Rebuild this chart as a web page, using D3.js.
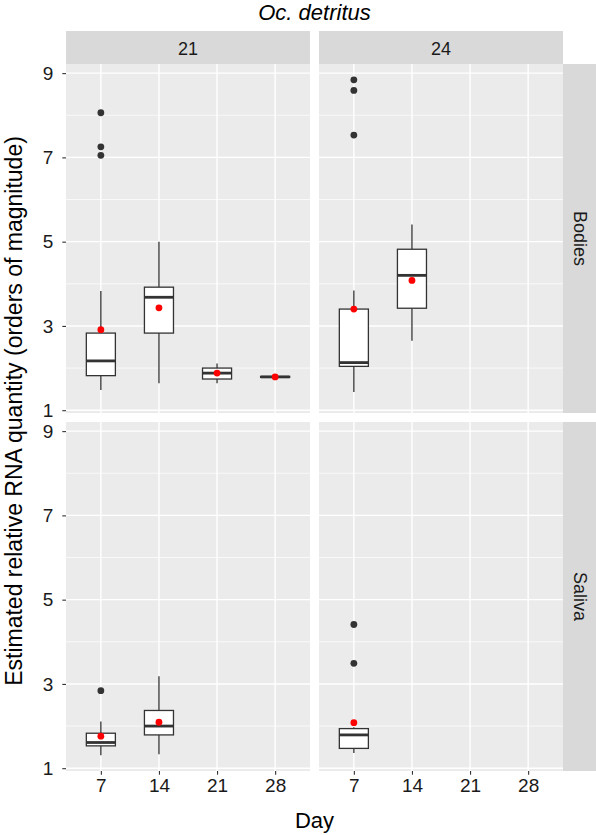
<!DOCTYPE html>
<html>
<head>
<meta charset="utf-8">
<script src="https://cdn.jsdelivr.net/npm/d3@7"></script>
<style>
  html, body { margin: 0; padding: 0; background: #fff; }
  svg { display: block; font-family: "Liberation Sans", Arial, sans-serif; }
</style>
</head>
<body>
<svg id="chart" width="596" height="835"></svg>
<script>
// ---- data ----
const days = ["7", "14", "21", "28"];
const temps = ["21", "24"];
const tissues = ["Bodies", "Saliva"];
const yTicks = [1, 3, 5, 7, 9];
const yMinorTicks = [2, 4, 6, 8];

// one entry per box
const boxTissue = ["Bodies", "Bodies", "Bodies", "Bodies", "Bodies", "Bodies", "Saliva", "Saliva", "Saliva"];
const boxTemp   = ["21", "21", "21", "21", "24", "24", "21", "21", "24"];
const boxDay    = ["7", "14", "21", "28", "7", "14", "7", "14", "7"];
const whiskLo   = [1.48, 1.64, 1.64, 1.79, 1.43, 2.65, 1.31, 1.33, 1.36];
const q1        = [1.82, 2.83, 1.74, 1.78, 2.04, 3.42, 1.53, 1.79, 1.47];
const median    = [2.17, 3.68, 1.88, 1.79, 2.13, 4.20, 1.61, 2.00, 1.79];
const q3        = [2.83, 3.92, 2.00, 1.80, 3.40, 4.82, 1.83, 2.37, 1.94];
const whiskHi   = [3.83, 5.00, 2.11, 1.79, 3.84, 5.41, 2.11, 3.18, 1.97];
const means     = [2.91, 3.43, 1.88, 1.79, 3.40, 4.08, 1.76, 2.09, 2.08];

// outliers
const outTissue = ["Bodies", "Bodies", "Bodies", "Bodies", "Bodies", "Bodies", "Saliva", "Saliva", "Saliva"];
const outTemp   = ["21", "21", "21", "24", "24", "24", "21", "24", "24"];
const outDay    = ["7", "7", "7", "7", "7", "7", "7", "7", "7"];
const outValue  = [8.06, 7.25, 7.05, 8.84, 8.59, 7.53, 2.84, 4.41, 3.49];

// ---- layout ----
const svg = d3.select("#chart");
const colX0 = [66, 319];
const panelW = 244;
const rowY0 = [64, 422];
const panelH = 349;
const stripTop = 31;
const rightStripW = 34;

const allVals = whiskLo.concat(whiskHi, outValue);
const ymin = d3.min(allVals), ymax = d3.max(allVals);
const pad = (ymax - ymin) * 0.05;

const gridCol = "#FFFFFF";
const panelBg = "#EBEBEB";
const stripBg = "#D9D9D9";
const inkDark = "#333333";
const textCol = "#1A1A1A";

// title
svg.append("text")
  .attr("x", (colX0[0] + colX0[1] + panelW) / 2)
  .attr("y", 20)
  .attr("text-anchor", "middle")
  .attr("font-style", "italic")
  .attr("font-size", 22)
  .attr("fill", "#000")
  .text("Oc. detritus");

// top strips
temps.forEach((t, ci) => {
  svg.append("rect").attr("x", colX0[ci]).attr("y", stripTop)
    .attr("width", panelW).attr("height", rowY0[0] - stripTop).attr("fill", stripBg);
  svg.append("text").attr("x", colX0[ci] + panelW / 2).attr("y", (stripTop + rowY0[0]) / 2 + 1)
    .attr("text-anchor", "middle").attr("dominant-baseline", "central")
    .attr("font-size", 18).attr("fill", textCol).text(t);
});

// right strips
tissues.forEach((tis, ri) => {
  const x0 = colX0[1] + panelW;
  svg.append("rect").attr("x", x0).attr("y", rowY0[ri])
    .attr("width", rightStripW).attr("height", panelH).attr("fill", stripBg);
  svg.append("text")
    .attr("transform", `translate(${x0 + 16.5},${rowY0[ri] + panelH / 2}) rotate(90)`)
    .attr("text-anchor", "middle").attr("dominant-baseline", "central")
    .attr("font-size", 18).attr("fill", textCol).text(tis);
});

tissues.forEach((tis, ri) => {
  temps.forEach((t, ci) => {
    const x = d3.scalePoint().domain(days).range([colX0[ci], colX0[ci] + panelW]).padding(0.6);
    const y = d3.scaleLinear().domain([ymin - pad, ymax + pad]).range([rowY0[ri] + panelH, rowY0[ri]]);
    const g = svg.append("g");
    g.append("rect").attr("x", colX0[ci]).attr("y", rowY0[ri])
      .attr("width", panelW).attr("height", panelH).attr("fill", panelBg);
    // minor grid
    g.selectAll(".minor").data(yMinorTicks).join("line")
      .attr("x1", colX0[ci]).attr("x2", colX0[ci] + panelW)
      .attr("y1", d => y(d)).attr("y2", d => y(d))
      .attr("stroke", gridCol).attr("stroke-width", 0.7);
    // major grid
    g.selectAll(".majy").data(yTicks).join("line")
      .attr("x1", colX0[ci]).attr("x2", colX0[ci] + panelW)
      .attr("y1", d => y(d)).attr("y2", d => y(d))
      .attr("stroke", gridCol).attr("stroke-width", 1.4);
    g.selectAll(".majx").data(days).join("line")
      .attr("x1", d => x(d)).attr("x2", d => x(d))
      .attr("y1", rowY0[ri]).attr("y2", rowY0[ri] + panelH)
      .attr("stroke", gridCol).attr("stroke-width", 1.4);

    const bw = x.step() * 0.5;
    const idx = d3.range(boxDay.length).filter(i => boxTissue[i] === tis && boxTemp[i] === t);
    idx.forEach(i => {
      const cx = x(boxDay[i]);
      // whiskers
      g.append("line").attr("x1", cx).attr("x2", cx)
        .attr("y1", y(q3[i])).attr("y2", y(whiskHi[i]))
        .attr("stroke", inkDark).attr("stroke-width", 1.3);
      g.append("line").attr("x1", cx).attr("x2", cx)
        .attr("y1", y(q1[i])).attr("y2", y(whiskLo[i]))
        .attr("stroke", inkDark).attr("stroke-width", 1.3);
      // box
      g.append("rect").attr("x", cx - bw / 2).attr("y", y(q3[i]))
        .attr("width", bw).attr("height", Math.max(0, y(q1[i]) - y(q3[i])))
        .attr("fill", "#fff").attr("stroke", inkDark).attr("stroke-width", 1.3);
      // median
      g.append("line").attr("x1", cx - bw / 2).attr("x2", cx + bw / 2)
        .attr("y1", y(median[i])).attr("y2", y(median[i]))
        .attr("stroke", inkDark).attr("stroke-width", 2.8);
    });
    // outliers
    const oidx = d3.range(outDay.length).filter(i => outTissue[i] === tis && outTemp[i] === t);
    g.selectAll(".out").data(oidx).join("circle")
      .attr("cx", i => x(outDay[i])).attr("cy", i => y(outValue[i]))
      .attr("r", 3.4).attr("fill", inkDark);
    // means
    g.selectAll(".mean").data(idx).join("circle")
      .attr("cx", i => x(boxDay[i])).attr("cy", i => y(means[i]))
      .attr("r", 3.4).attr("fill", "#FF0000");

    // y axis (left column only)
    if (ci === 0) {
      const ax = svg.append("g").attr("transform", `translate(${colX0[0]},0)`)
        .call(d3.axisLeft(y).tickValues(yTicks).tickSize(3.7).tickPadding(9).tickFormat(d3.format("d")));
      ax.select(".domain").remove();
      ax.selectAll(".tick line").attr("stroke", inkDark).attr("stroke-width", 1.1);
      ax.selectAll(".tick text").attr("font-size", 19).attr("fill", textCol)
        .attr("font-family", '"Liberation Sans", Arial, sans-serif');
    }
    // x axis (bottom row only)
    if (ri === 1) {
      const ax = svg.append("g").attr("transform", `translate(0,${rowY0[1] + panelH})`)
        .call(d3.axisBottom(x).tickSize(3.7).tickPadding(4));
      ax.select(".domain").remove();
      ax.selectAll(".tick line").attr("stroke", inkDark).attr("stroke-width", 1.1);
      ax.selectAll(".tick text").attr("font-size", 19).attr("fill", textCol)
        .attr("font-family", '"Liberation Sans", Arial, sans-serif');
    }
  });
});

// axis titles
svg.append("text")
  .attr("x", (colX0[0] + colX0[1] + panelW) / 2)
  .attr("y", 828)
  .attr("text-anchor", "middle")
  .attr("font-size", 22).attr("fill", "#000").text("Day");

svg.append("text")
  .attr("transform", `translate(22,${(stripTop + rowY0[1] + panelH) / 2 + 10}) rotate(-90)`)
  .attr("text-anchor", "middle")
  .attr("font-size", 23).attr("fill", "#000")
  .text("Estimated relative RNA quantity (orders of magnitude)");
</script>
</body>
</html>
